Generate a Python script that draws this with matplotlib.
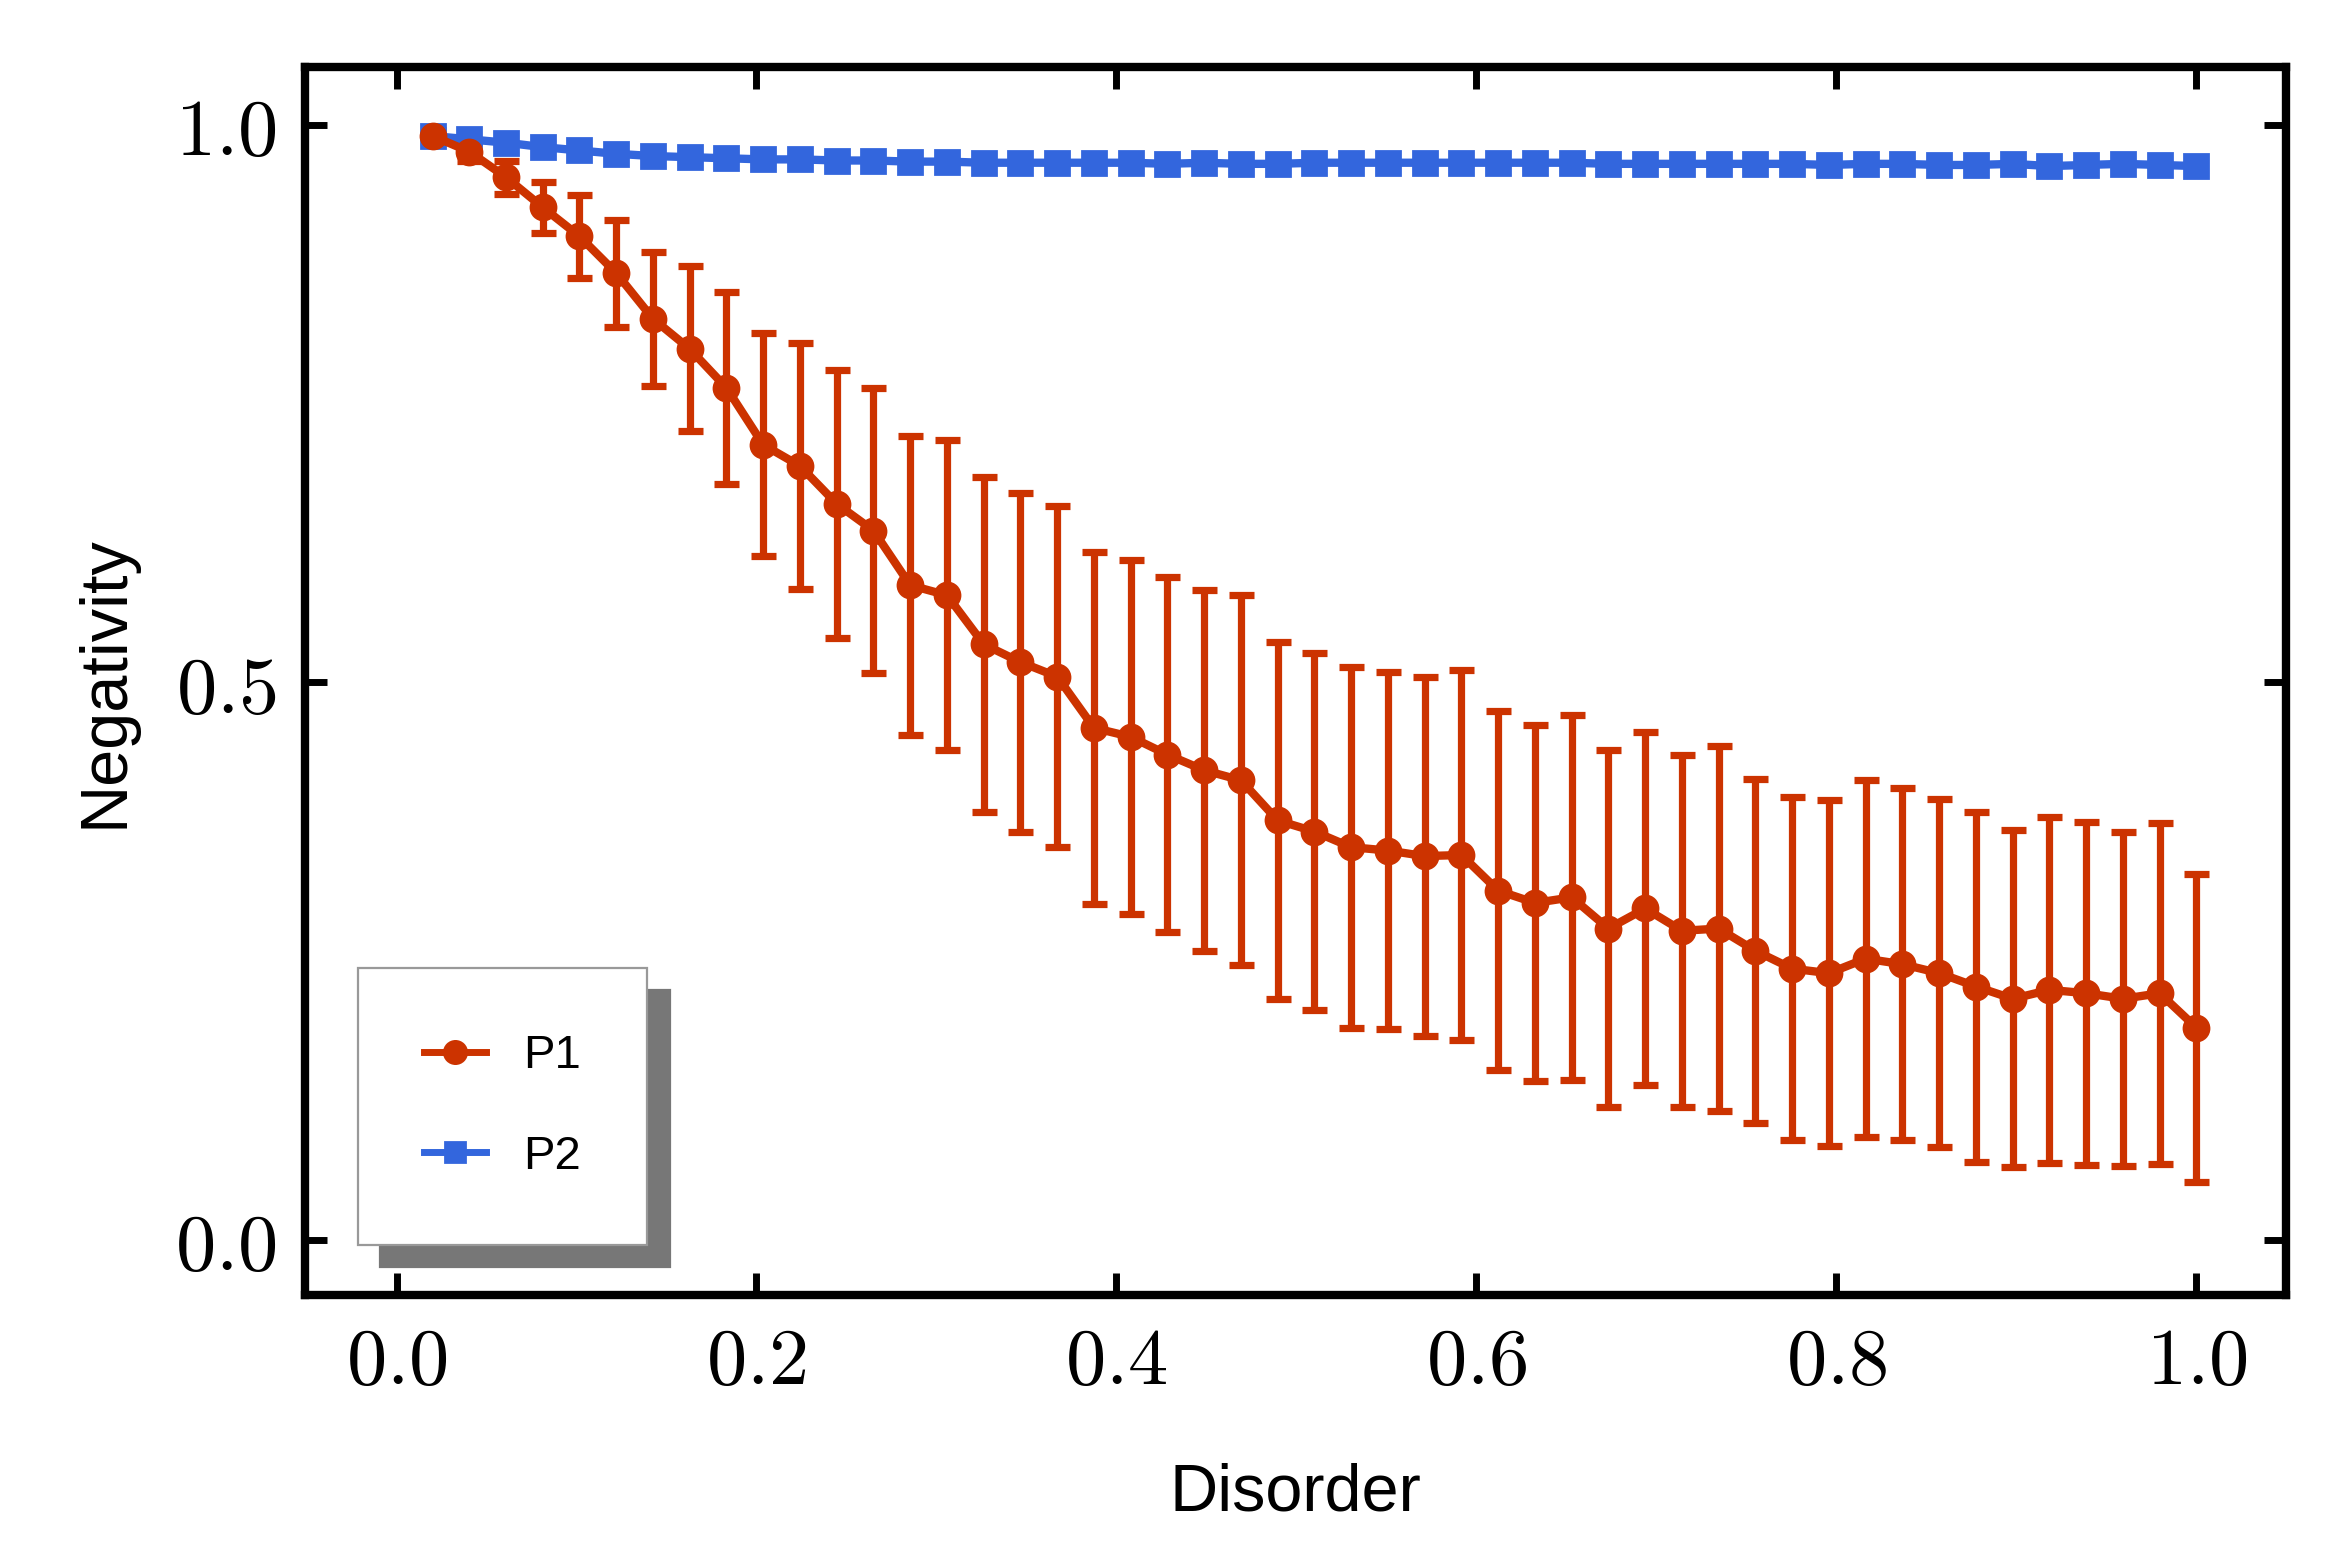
import numpy as np
import matplotlib
matplotlib.use("Agg")
import matplotlib.pyplot as plt
from matplotlib.lines import Line2D

x = np.linspace(0.02, 1.0, 49)
p1 = [0.99,0.976,0.953,0.926,0.90,0.867,0.826,0.799,0.764,0.713,0.694,0.66,0.636,0.587,0.578,0.534,0.518,0.505,
      0.459,0.451,0.435,0.421,0.412,0.376,0.366,0.352,0.349,0.344,0.345,0.313,0.302,0.307,0.279,0.297,0.277,0.279,
      0.259,0.243,0.239,0.252,0.247,0.239,0.227,0.216,0.224,0.221,0.216,0.221,0.190]
p1_err = [0.005,0.008,0.015,0.023,0.037,0.048,0.06,0.074,0.086,0.1,0.11,0.12,0.128,0.134,0.139,0.15,0.152,0.153,
          0.158,0.159,0.159,0.162,0.166,0.16,0.16,0.162,0.16,0.161,0.166,0.161,0.16,0.164,0.16,0.158,0.158,0.164,
          0.154,0.154,0.155,0.16,0.158,0.156,0.157,0.151,0.155,0.154,0.15,0.153,0.138]
p2 = [0.99,0.987,0.984,0.98,0.977,0.974,0.972,0.971,0.970,0.969,0.969,0.968,0.968,0.967,0.967,0.966,0.966,0.966,
      0.966,0.966,0.965,0.966,0.965,0.965,0.966,0.966,0.966,0.966,0.966,0.966,0.966,0.966,0.965,0.965,0.965,0.965,
      0.965,0.965,0.964,0.965,0.965,0.964,0.964,0.965,0.963,0.964,0.965,0.964,0.963]
xticks = [0.0, 0.2, 0.4, 0.6, 0.8, 1.0]
yticks = [0.0, 0.5, 1.0]

red = "#CC3300"
blue = "#3366DD"

plt.rcParams["mathtext.fontset"] = "cm"
fig = plt.figure(figsize=(11.63, 7.775), dpi=200)
ax = fig.add_axes([0.131, 0.167, 0.852, 0.79])

ax.errorbar(x, p1, yerr=p1_err, color=red, marker="o", ms=9, lw=3, elinewidth=2.6,
            capsize=4.5, capthick=2.6)
ax.plot(x, p2, color=blue, marker="s", ms=8.5, lw=3)

ax.set_xlim(-0.051, 1.05)
ax.set_ylim(-0.05, 1.052)
ax.set_xticks(xticks)
ax.set_yticks(yticks)
ax.set_xticklabels([r"$%.1f$" % v for v in xticks], fontsize=29)
ax.set_yticklabels([r"$%.1f$" % v for v in yticks], fontsize=29)
ax.tick_params(direction="in", top=True, right=True, length=8, width=2.5, pad=10)
for s in ax.spines.values():
    s.set_linewidth(3)

ax.set_xlabel("Disorder", fontsize=24, family="Liberation Sans", labelpad=22)
ax.set_ylabel("Negativity", fontsize=24, family="Liberation Sans", labelpad=14)

handles = [Line2D([], [], color=red, marker="o", ms=8, lw=2.5),
           Line2D([], [], color=blue, marker="s", ms=7.5, lw=2.5)]
leg = ax.legend(handles, ["P1", "P2"], loc="lower left", bbox_to_anchor=(0.027, 0.041), fancybox=False,
                shadow={"color": "#777777", "alpha": 1, "ox": 8, "oy": -8},
                prop={"family": "Liberation Sans", "size": 17}, borderpad=1.4, labelspacing=1.2,
                handlelength=1.3, borderaxespad=0)
leg.get_frame().set_edgecolor("#999999")
leg.get_frame().set_linewidth(0.8)

fig.savefig("out.png", dpi=200)
